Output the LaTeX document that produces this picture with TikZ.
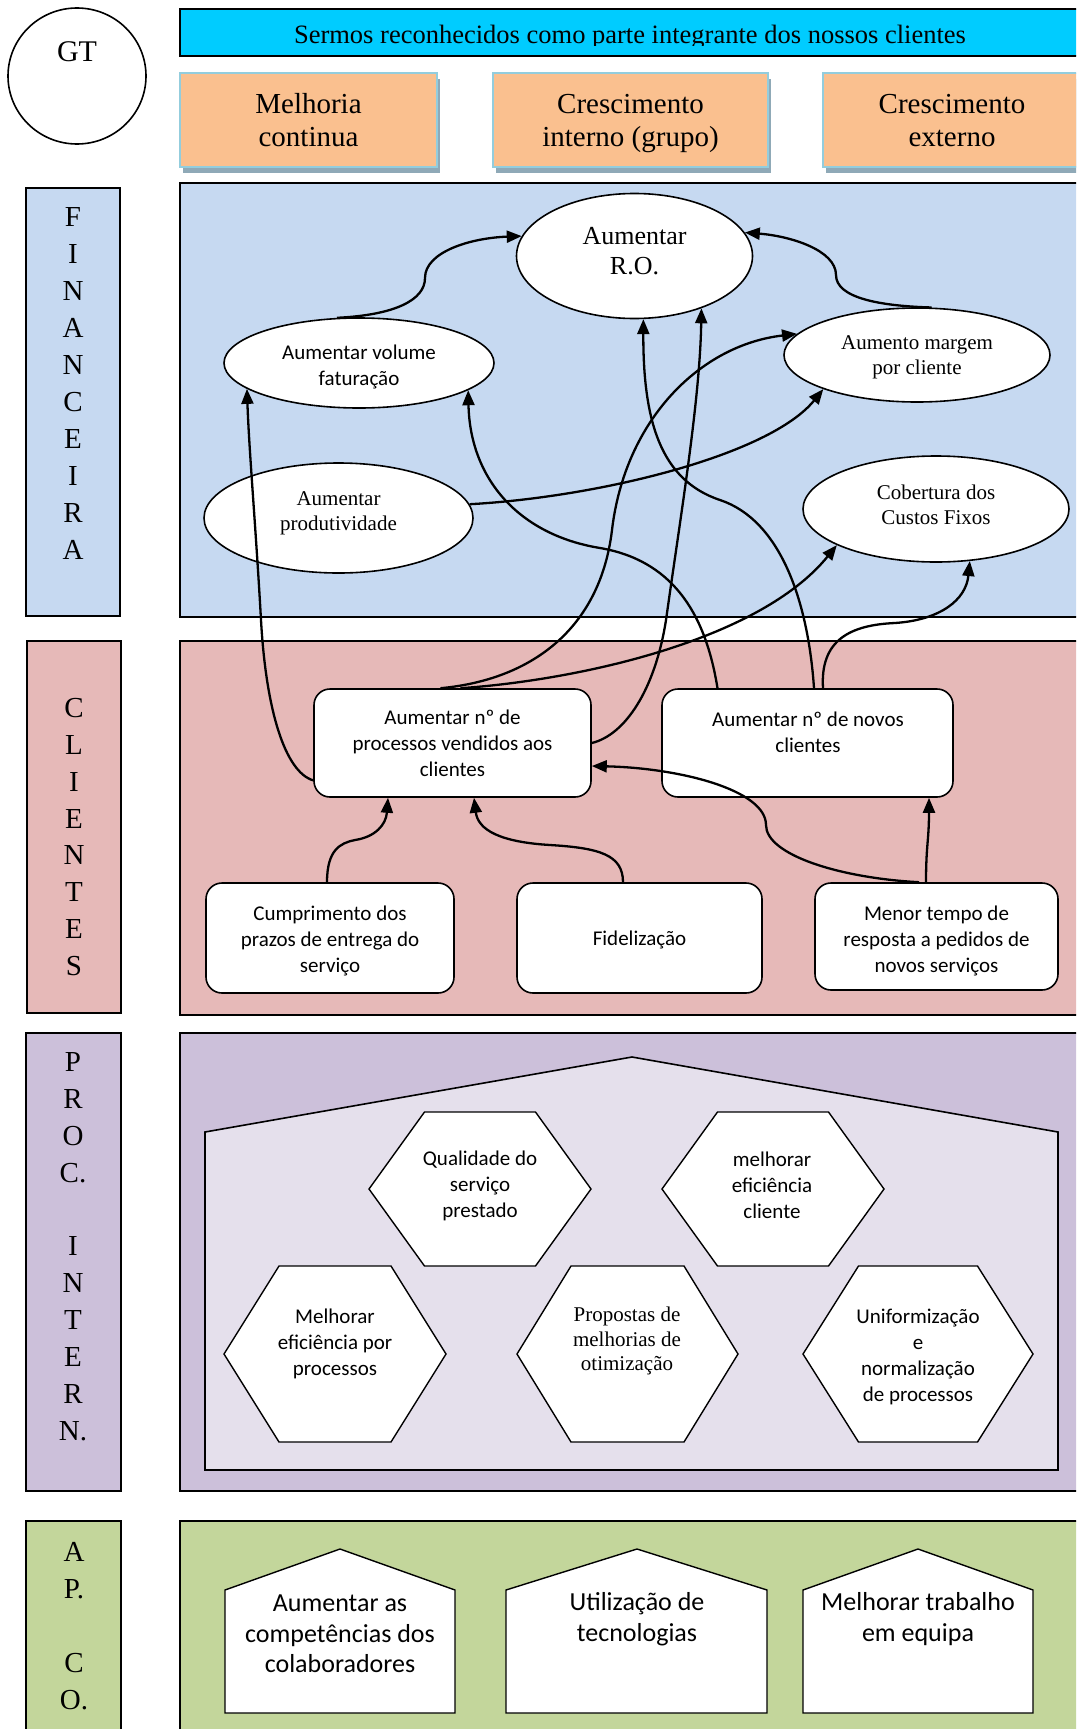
\documentclass[tikz,border=0pt]{standalone}
\usepackage{fontspec}
\setmainfont{Liberation Serif}
\newfontfamily\calib{Carlito}
\usetikzlibrary{shapes.geometric,arrows.meta,shadows}
\definecolor{cFin}{HTML}{C6D9F1}
\definecolor{cCli}{HTML}{E6B9B8}
\definecolor{cProc}{HTML}{CCC0DA}
\definecolor{cProcIn}{HTML}{E5E0EC}
\definecolor{cAp}{HTML}{C3D69B}
\definecolor{cOrange}{HTML}{FAC08F}
\definecolor{cCyan}{HTML}{00CCFF}
\definecolor{cOBorder}{HTML}{93CDDD}
\definecolor{cOShadow}{HTML}{8FA9B7}
\newcommand\hexshape[5]{\draw[hexst] ({#1-#3},#2) -- ({#1-#4},{#2-#5}) -- ({#1+#4},{#2-#5}) -- ({#1+#3},#2) -- ({#1+#4},{#2+#5}) -- ({#1-#4},{#2+#5}) -- cycle;}
\begin{document}
\begin{tikzpicture}[x=1pt,y=-1pt,
  panel/.style={draw=black,line width=1.6pt},
  lab/.style={font=\fontsize{29}{36.9}\selectfont,align=center,inner sep=0pt},
  ell/.style={ellipse,draw=black,fill=white,line width=1.6pt,inner sep=0pt,align=center},
  serif/.style={font=\fontsize{21}{25}\selectfont},
  sans/.style={font=\calib\fontsize{21}{26}\selectfont},
  rbox/.style={draw=black,fill=white,rounded corners=16pt,line width=1.6pt,inner sep=0pt,align=center,sans},
  hexst/.style={draw=black,fill=white,line width=1.4pt},
  pent/.style={draw=black,fill=white,line width=1.4pt},
  txt/.style={inner sep=0pt,align=center},
  conn/.style={line width=2.3pt,-{Triangle[length=15pt,width=12pt]}},
  obox/.style={fill=cOrange,draw=cOBorder,line width=2.5pt,inner sep=0pt,
    minimum height=94pt,
    drop shadow={shadow xshift=3pt,shadow yshift=-6pt,fill=cOShadow,opacity=1}},
  otext/.style={txt,font=\fontsize{29}{33.5}\selectfont},
]
\clip (0,0) rectangle (1076,1729);
\fill[white] (0,0) rectangle (1076,1729);

% ---------- header ----------
\node[ellipse,draw=black,line width=1.6pt,minimum width=138pt,minimum height=136pt,inner sep=0pt] (gt) at (77,76) {};
\node[txt,font=\fontsize{30}{30}\selectfont] (gtt) at (77,52) {GT};

\fill[cCyan] (180,9) rectangle (1082,56);
\begin{scope}
\clip (180,9) rectangle (1082,45.5);
\node[anchor=base,inner sep=0pt,font=\fontsize{26.5}{30}\selectfont] (mission) at (630,43) {Sermos reconhecidos como parte integrante dos nossos clientes};
\end{scope}
\draw[panel] (180,9) rectangle (1082,56);

\node[obox,minimum width=257pt] (o1) at (308.5,120) {};
\node[obox,minimum width=275pt] (o2) at (630.5,120) {};
\node[obox,minimum width=258pt] (o3) at (952,120) {};
\node[otext] (o1t) at (308.5,123.5) {Melhoria\strut\\continua\strut};
\node[otext] (o2t) at (630.5,123.5) {Crescimento\strut\\interno (grupo)\strut};
\node[otext] (o3t) at (952,123.5) {Crescimento\strut\\externo\strut};

% ---------- panels ----------
\filldraw[panel,fill=cFin] (26,188) rectangle (120,616);
\filldraw[panel,fill=cFin] (180,183) rectangle (1082,617);
\filldraw[panel,fill=cCli] (27,641) rectangle (121,1013);
\filldraw[panel,fill=cCli] (180,641) rectangle (1082,1015);
\filldraw[panel,fill=cProc] (26,1033) rectangle (121,1491);
\filldraw[panel,fill=cProc] (180,1033) rectangle (1082,1491);
\filldraw[panel,fill=cAp] (26,1521) rectangle (121,1745);
\filldraw[panel,fill=cAp] (180,1521) rectangle (1082,1745);

\node[lab] (lfin) at (73,383.5) {F\\I\\N\\A\\N\\C\\E\\I\\R\\A};
\node[lab] (lcli) at (74,837) {C\\L\\I\\E\\N\\T\\E\\S};
\node[lab] (lproc) at (73,1246.5) {P\\R\\O\\C.\\[36.9pt]I\\N\\T\\E\\R\\N.};
\node[lab] (lap) at (74,1626) {A\\P.\\[37pt]C\\O.};

% ---------- financeira ----------
\node[ell,minimum width=236pt,minimum height=125pt] (RO) at (634.5,256) {};
\node[txt,font=\fontsize{26}{30}\selectfont] (ROt) at (634.5,251) {Aumentar\\R.O.};
\node[ell,minimum width=270pt,minimum height=90pt] (vol) at (359,363) {};
\node[txt,sans] (volt) at (359,367) {Aumentar volume\\faturação};
\node[ell,minimum width=269pt,minimum height=110pt] (prod) at (338.5,518) {};
\node[txt,serif] (prodt) at (338.5,513.5) {Aumentar\\produtividade};
\node[ell,minimum width=266pt,minimum height=94pt] (marg) at (917,355) {};
\node[txt,serif] (margt) at (917,357) {Aumento margem\\por cliente};
\node[ell,minimum width=266pt,minimum height=106pt] (cob) at (936,509) {};
\node[txt,serif] (cobt) at (936,505) {Cobertura dos\\Custos Fixos};

% ---------- clientes ----------
\node[rbox,minimum width=277pt,minimum height=108pt] (proc) at (452.5,743) {Aumentar nº de\\processos vendidos aos\\clientes};
\node[rbox,minimum width=291pt,minimum height=108pt] (nov) at (807.5,743) {};
\node[txt,sans] (novt) at (808,732.5) {Aumentar nº de novos\\clientes};
\node[rbox,minimum width=248pt,minimum height=110pt] (cum) at (330,938) {};
\node[txt,sans] (cumt) at (330,940.5) {Cumprimento dos\\prazos de entrega do\\serviço};
\node[rbox,minimum width=245pt,minimum height=110pt] (fid) at (639.5,938) {};
\node[txt,sans] (fidt) at (639.5,940) {Fidelização};
\node[rbox,minimum width=243pt,minimum height=107pt] (men) at (936.5,936.5) {};
\node[txt,sans] (ment) at (936.5,940.5) {Menor tempo de\\resposta a pedidos de\\novos serviços};

% ---------- connectors ----------
\draw[conn] (vol.116) .. controls (395,315) and (425,300) .. (425,278) .. controls (425,252) and (470,238) .. (RO.170);
\draw[conn] (marg.73) .. controls (880,306) and (836,298) .. (836,275) .. controls (836,250) and (790,236) .. (RO.12);
\draw[conn] (proc.195) .. controls (285,772) and (266,710) .. (261,620) .. controls (256,530) and (249,450) .. (vol.193);
\draw[conn] ([xshift=-90pt]nov.north) .. controls (705,610) and (670,560) .. (600,548) .. controls (520,535) and (470,480) .. (vol.-14);
\draw[conn] ([xshift=6.5pt]nov.north) .. controls (808,600) and (780,520) .. (720,500) .. controls (660,480) and (643,420) .. (RO.-82);
\draw[conn] (proc.east) .. controls (625,735) and (655,690) .. (666,620) .. controls (680,520) and (700,400) .. (RO.-38);
\draw[conn] ([xshift=-12pt]proc.north) .. controls (530,680) and (600,630) .. (612,530) .. controls (625,420) and (700,345) .. (marg.170);
\draw[conn] ([xshift=8pt]proc.north) .. controls (580,680) and (760,640) .. (cob.200);
\draw[conn] ([xshift=15.5pt]nov.north) .. controls (820,640) and (850,625) .. (895,623) .. controls (940,620) and (966,600) .. (cob.-57);
\draw[conn] (prod.6) .. controls (600,497) and (770,455) .. (marg.200);
\draw[conn] ([xshift=-10.5pt]men.north) .. controls (926,845) and (929,840) .. ([xshift=121.5pt]nov.south);
\draw[conn] ([xshift=-17.5pt]men.north) .. controls (840,878) and (766,855) .. (766,825) .. controls (766,790) and (680,768) .. ([yshift=-23pt]proc.east);
\draw[conn] ([xshift=-16.5pt]fid.north) .. controls (623,855) and (600,848) .. (550,845) .. controls (500,842) and (478,830) .. ([xshift=21.5pt]proc.south);
\draw[conn] ([xshift=-3pt]cum.north) .. controls (327,850) and (340,843) .. (355,840) .. controls (375,837) and (386,825) .. ([xshift=-64.5pt]proc.south);

% ---------- processos internos ----------
\draw[fill=cProcIn,line width=1.6pt] (205,1470) -- (205,1132) -- (632,1057) -- (1058,1132) -- (1058,1470) -- cycle;
\hexshape{480}{1189}{111}{55.5}{77}
\hexshape{773}{1189}{111}{55.5}{77}
\hexshape{335}{1354}{111}{56}{88}
\hexshape{627.5}{1354}{110.5}{56.5}{88}
\hexshape{918}{1354}{115}{59.5}{88}
\node[txt,sans] (h1) at (480,1185.5) {Qualidade do\\serviço\\prestado};
\node[txt,sans] (h2) at (772,1185.5) {melhorar\\eficiência\\cliente};
\node[txt,sans] (h3) at (335,1344) {Melhorar\\eficiência por\\processos};
\node[txt,font=\fontsize{21}{24.5}\selectfont] (h4) at (627,1341) {Propostas de\\melhorias de\\otimização};
\node[txt,sans] (h5) at (918,1357) {Uniformização\\e\\normalização\\de processos};

% ---------- aprendizagem ----------
\draw[pent] (225,1713) -- (225,1590) -- (340,1549) -- (455,1590) -- (455,1713) -- cycle;
\draw[pent] (506,1713) -- (506,1590) -- (637,1549) -- (767,1590) -- (767,1713) -- cycle;
\draw[pent] (803,1713) -- (803,1590) -- (918,1549) -- (1033,1590) -- (1033,1713) -- cycle;
\node[txt,font=\calib\fontsize{26}{30.5}\selectfont] (p1) at (340,1634) {Aumentar as\\competências dos\\colaboradores};
\node[txt,font=\calib\fontsize{26}{30.5}\selectfont] (p2) at (637,1619) {Utilização de\\tecnologias};
\node[txt,font=\calib\fontsize{26}{30.5}\selectfont] (p3) at (918,1619) {Melhorar trabalho\\em equipa};
\end{tikzpicture}
\end{document}
